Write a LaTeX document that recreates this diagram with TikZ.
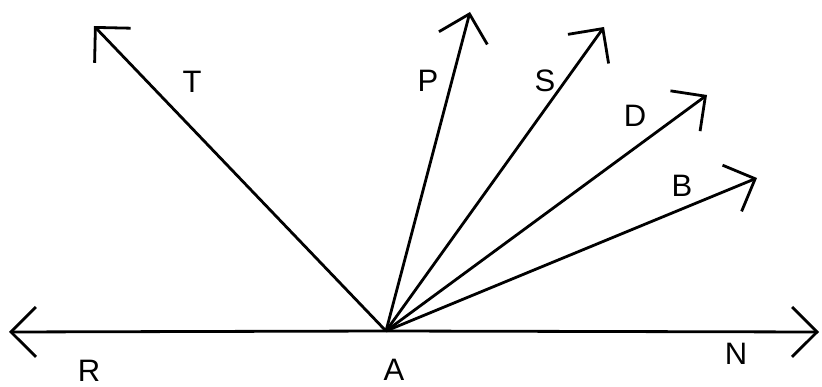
\documentclass[tikz,border=0pt]{standalone}
\usepackage{fontspec}
\setmainfont{Liberation Sans}
\usetikzlibrary{arrows.meta}
\begin{document}
\begin{tikzpicture}[x=1pt,y=-1pt,
  ray/.style={line width=2.8pt,-{Straight Barb[length=25pt,width=50pt,line width=2.8pt]}},
  lbl/.style={inner sep=0pt,font=\fontsize{31}{31}\selectfont}]
\useasboundingbox (0,0) rectangle (822,387);
\coordinate (A) at (386,331);
\coordinate (R) at (9,332);
\coordinate (N) at (819,332);
\coordinate (T) at (94,26);
\coordinate (P) at (470,12);
\coordinate (S) at (604,27);
\coordinate (D) at (707,95);
\coordinate (B) at (757,178);
\draw[ray] (A) -- (R);
\draw[ray] (A) -- (N);
\draw[ray] (A) -- (T);
\draw[ray] (A) -- (P);
\draw[ray] (A) -- (S);
\draw[ray] (A) -- (D);
\draw[ray] (A) -- (B);
\node[lbl] (lR) at (89,371) {R};
\node[lbl] (lA) at (394,370) {A};
\node[lbl] (lN) at (736,354) {N};
\node[lbl] (lT) at (192,82) {T};
\node[lbl] (lP) at (428,81) {P};
\node[lbl] (lS) at (545,81) {S};
\node[lbl] (lD) at (635,116) {D};
\node[lbl] (lB) at (682,186) {B};
\end{tikzpicture}
\end{document}
